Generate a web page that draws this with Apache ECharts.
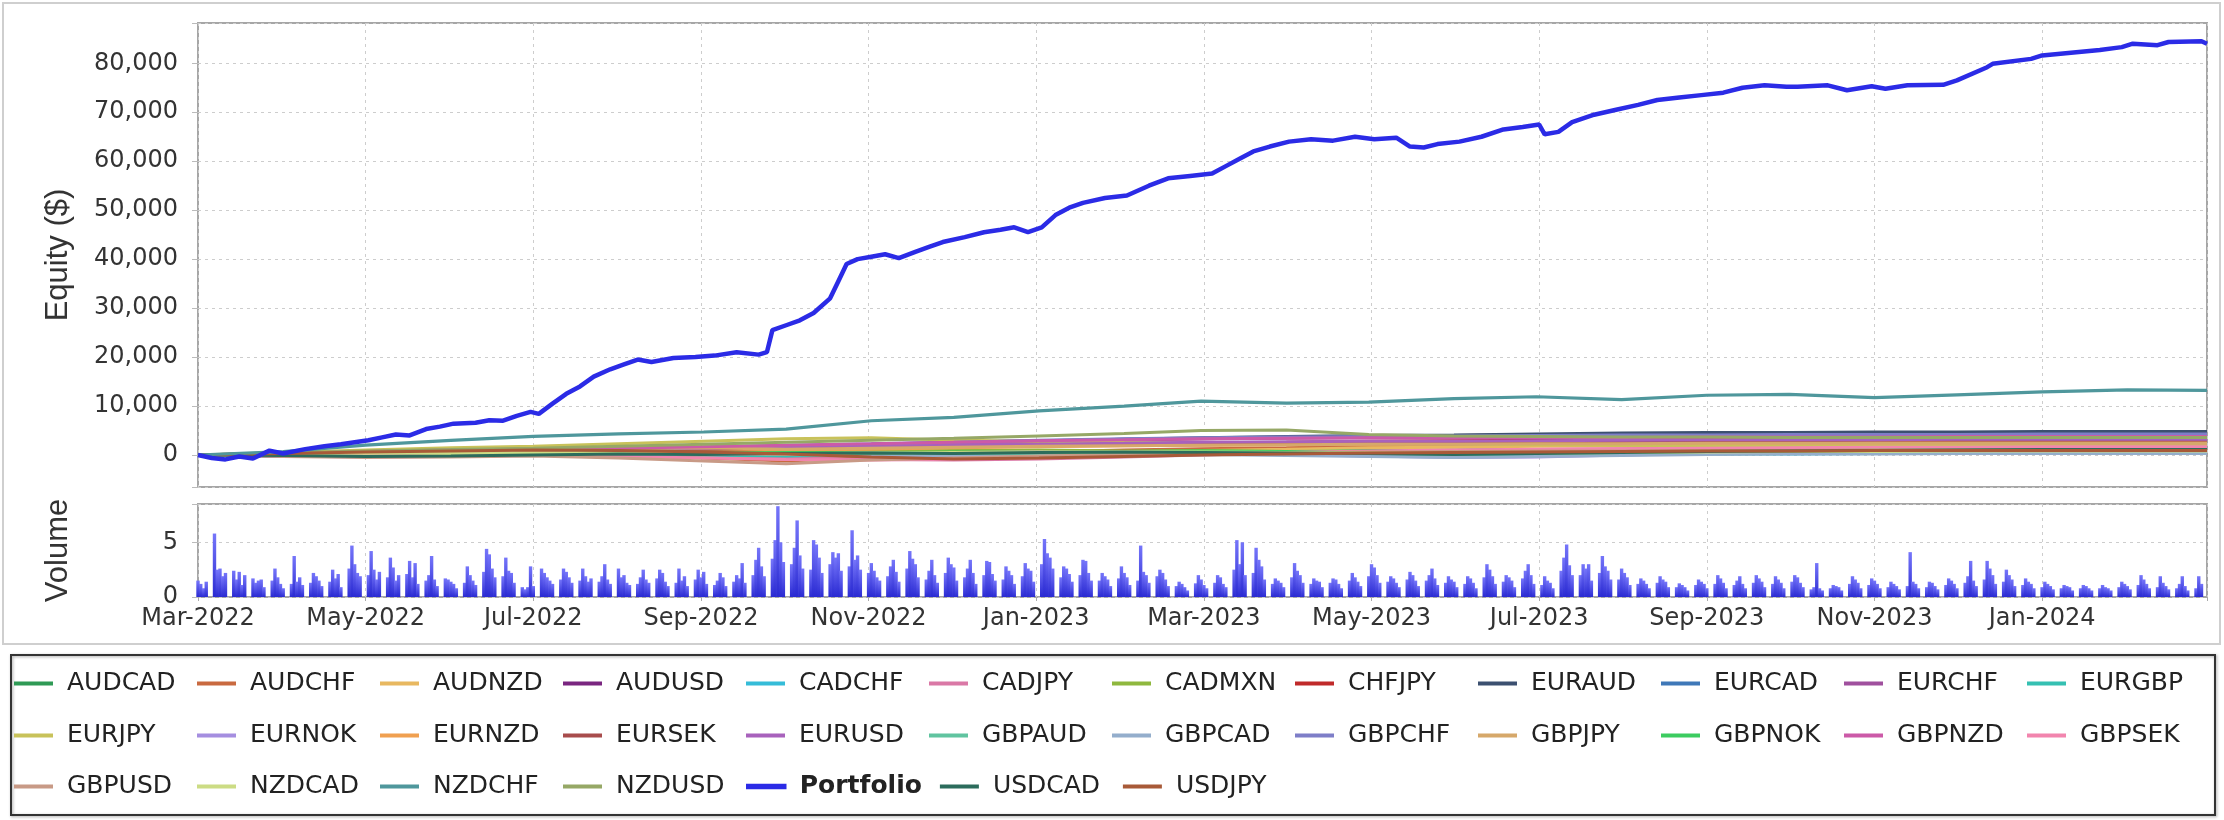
<!DOCTYPE html>
<html><head><meta charset="utf-8">
<script src="https://cdn.jsdelivr.net/npm/echarts@6/dist/echarts.min.js"></script>
<style>html,body{margin:0;padding:0;background:#fff}#chart{width:2224px;height:820px}</style>
</head><body><div id="chart"></div>
<script>
// ---------- DATA ----------
const monthDates = ['2022-03-01','2022-04-01','2022-05-01','2022-06-01','2022-07-01','2022-08-01','2022-09-01','2022-10-01','2022-11-01','2022-12-01','2023-01-01','2023-02-01','2023-03-01','2023-04-01','2023-05-01','2023-06-01','2023-07-01','2023-08-01','2023-09-01','2023-10-01','2023-11-01','2023-12-01','2024-01-01','2024-02-01','2024-03-01'];

const AUDCAD = [0,100,300,200,400,500,300,600,500,700,600,800,900,700,900,1000,1100,1000,1200,1300,1200,1300,1400,1400,1450];
const AUDCHF = [0,-200,100,300,500,400,-600,-1200,-500,200,600,1000,1300,1500,1800,2000,2100,2300,2400,2500,2600,2700,2700,2800,2800];
const AUDNZD = [0,200,-100,-300,100,300,0,-900,-800,-300,200,600,900,1200,1500,1600,1800,1900,2000,2100,2100,2200,2200,2300,2200];
const AUDUSD = [0,300,600,500,800,1200,1500,1800,2200,2600,2900,3200,3300,3600,3800,4000,4100,4200,4300,4200,4400,4500,4500,4600,4500];
const CADCHF = [0,-100,200,100,300,200,400,300,500,400,300,200,300,100,0,-200,100,200,300,200,300,400,300,300,300];
const CADJPY = [0,200,400,300,100,200,0,-500,-900,-1000,-800,-400,0,400,700,900,1100,1300,1500,1600,1700,1800,1900,2000,2000];
const CADMXN = [0,-200,-300,100,300,500,700,600,800,900,1000,800,900,700,600,800,900,1000,1100,1000,1100,1200,1200,1200,1200];
const CHFJPY = [0,400,800,1100,1400,1500,1600,1500,1700,1900,2100,2300,2500,2600,2800,2900,3000,3100,3200,3300,3300,3400,3400,3500,3400];
const EURAUD = [0,200,500,700,900,1200,1400,1600,1900,2300,2800,3200,3500,3800,4000,4100,4300,4500,4600,4600,4700,4700,4800,4800,4800];
const EURCAD = [0,-300,-200,0,200,100,300,200,400,300,500,400,300,200,100,0,200,300,400,500,500,600,600,600,600];
const EURCHF = [0,300,500,800,1000,1300,1500,1800,2100,2400,2700,3000,3300,3400,3500,3500,3600,3700,3800,3900,3900,4000,4000,4000,4000];
const EURGBP = [0,100,-100,200,300,100,0,-200,100,300,200,400,300,100,-100,-300,-100,100,200,300,300,400,400,400,400];
const EURJPY = [0,500,1000,1500,1800,2300,2800,3300,3500,3000,2800,2600,2500,2400,2300,2200,2100,2000,1900,1900,1900,1900,1900,1900,1900];
const EURNOK = [0,-200,-400,-300,-100,100,300,200,400,500,600,500,300,100,-200,-500,-400,0,300,500,600,700,700,700,700];
const EURNZD = [0,300,500,700,900,1100,1300,1000,1200,1500,1700,1900,2000,2100,2200,2300,2400,2400,2500,2500,2500,2600,2600,2600,2600];
const EURSEK = [0,200,400,600,800,1000,1200,1400,1600,1800,2000,2100,2200,2400,2500,2600,2700,2800,2900,2900,3000,3000,3000,3000,3000];
const EURUSD = [0,400,600,900,1000,1200,1400,1700,1900,2100,2200,2400,2600,2700,2800,2800,2900,3000,3100,3100,3100,3200,3200,3200,3200];
const GBPAUD = [0,300,500,400,600,500,400,300,200,100,200,300,400,300,200,100,200,300,400,500,500,500,500,500,500];
const GBPCAD = [0,-100,0,200,100,300,200,100,-100,-300,-200,0,100,-100,-300,-500,-300,-100,100,200,200,300,300,300,300];
const GBPCHF = [0,100,400,700,1000,1300,1600,2000,2300,2600,3000,3300,3500,3700,3800,3900,4000,4100,4100,4200,4200,4200,4300,4300,4300];
const GBPJPY = [0,200,500,800,1100,1300,1500,1200,1400,1600,1800,1900,2000,2100,2200,2200,2300,2300,2400,2400,2400,2400,2400,2400,2400];
const GBPNOK = [0,200,100,300,200,400,300,500,400,600,500,700,800,700,800,900,1000,1100,1100,1200,1200,1300,1300,1300,1300];
const GBPNZD = [0,300,700,1000,1200,1400,1700,2000,2300,2600,2900,3100,3300,3400,3500,3500,3600,3600,3700,3700,3700,3800,3800,3800,3800];
const GBPSEK = [0,100,300,200,0,-300,-600,-900,-1000,-800,-600,-200,200,500,800,1000,1200,1300,1400,1500,1600,1600,1700,1700,1700];
const GBPUSD = [0,-300,-500,-400,-200,-600,-1200,-1800,-1000,-600,-200,100,300,500,600,700,800,800,900,900,1000,1000,1000,1000,1000];
const NZDCAD = [0,200,400,300,500,400,300,200,400,500,600,700,600,500,400,300,400,500,600,700,700,800,800,800,800];
const NZDCHF = [0,700,2000,3000,3800,4300,4700,5300,7000,7700,9000,10000,11000,10600,10800,11500,11900,11300,12200,12400,11700,12300,12900,13300,13200];
const NZDUSD = [0,400,800,1100,1400,1800,2200,2600,3000,3400,3900,4400,5000,5100,4200,3900,3800,3700,3700,3600,3600,3600,3600,3600,3600];
const USDCAD = [0,-100,-300,-200,0,200,100,300,400,300,500,600,500,400,300,100,300,500,700,800,900,1000,1100,1100,1100];
const USDJPY = [0,300,600,800,1000,900,600,200,-400,-800,-600,-300,0,200,400,500,600,700,800,800,900,900,900,900,900];

const portfolioDates = ['2022-03-01','2022-03-06','2022-03-11','2022-03-16','2022-03-21','2022-03-27','2022-04-01','2022-04-09','2022-04-16','2022-04-22','2022-05-02','2022-05-07','2022-05-12','2022-05-17','2022-05-23','2022-05-28','2022-06-02','2022-06-10','2022-06-15','2022-06-20','2022-06-25','2022-06-30','2022-07-03','2022-07-08','2022-07-13','2022-07-18','2022-07-23','2022-07-29','2022-08-03','2022-08-08','2022-08-13','2022-08-21','2022-08-29','2022-09-05','2022-09-13','2022-09-21','2022-09-24','2022-09-26','2022-10-01','2022-10-06','2022-10-11','2022-10-17','2022-10-20','2022-10-23','2022-10-27','2022-11-01','2022-11-06','2022-11-11','2022-11-17','2022-11-22','2022-11-27','2022-12-05','2022-12-12','2022-12-18','2022-12-23','2022-12-28','2023-01-02','2023-01-07','2023-01-12','2023-01-17','2023-01-25','2023-02-02','2023-02-10','2023-02-17','2023-02-25','2023-03-05','2023-03-10','2023-03-15','2023-03-20','2023-03-26','2023-04-02','2023-04-10','2023-04-18','2023-04-26','2023-05-03','2023-05-11','2023-05-16','2023-05-21','2023-05-26','2023-06-03','2023-06-11','2023-06-19','2023-06-26','2023-07-02','2023-07-04','2023-07-09','2023-07-14','2023-07-22','2023-07-30','2023-08-07','2023-08-14','2023-08-22','2023-08-30','2023-09-07','2023-09-14','2023-09-22','2023-09-30','2023-10-04','2023-10-15','2023-10-22','2023-10-31','2023-11-05','2023-11-13','2023-11-26','2023-12-01','2023-12-12','2023-12-14','2023-12-28','2024-01-01','2024-01-22','2024-01-30','2024-02-03','2024-02-12','2024-02-16','2024-02-28','2024-03-01'];
const portfolioValues = [0,-600,-900,-300,-700,900,300,1200,1800,2200,3000,3600,4200,4000,5300,5800,6400,6600,7100,7000,8000,8800,8400,10500,12500,14000,16000,17500,18500,19500,19000,19800,20000,20300,21000,20500,21000,25500,26500,27500,29000,32000,35500,39000,40000,40500,41000,40200,41500,42500,43500,44500,45500,46000,46500,45500,46500,49000,50500,51500,52500,53000,55000,56500,57000,57500,59000,60500,62000,63000,64000,64500,64200,65000,64500,64800,63000,62800,63500,64000,65000,66500,67000,67500,65500,66000,68000,69500,70500,71500,72500,73000,73500,74000,75000,75500,75200,75200,75500,74500,75300,74800,75500,75600,76500,79200,79900,80900,81600,82700,83300,84000,83700,84350,84500,84000];

// Volume: one row per week (Mon..Fri), first week starts Mon 2022-02-28
const volumeFirstMonday = '2022-02-28';
const volumeWeeks = [
[0,1.5,1.2,0.8,1.4],[5.8,2.5,2.6,1.9,2.2],[2.4,1.6,2.3,1.1,2.0],[1.7,1.3,1.5,1.6,0.9],[1.5,2.6,1.8,1.2,0.8],
[1.2,3.75,1.4,1.8,1.1],[1.3,2.2,1.9,1.5,1.0],[1.4,2.5,1.7,2.1,0.9],[2.6,4.7,3.0,2.2,1.9],[2.0,4.2,2.5,1.6,2.3],
[1.8,3.6,2.7,1.5,2.0],[2.1,3.3,1.8,3.1,1.2],[1.5,2.0,3.75,1.6,1.0],[1.7,1.6,1.4,1.2,0.8],[1.3,2.8,2.0,1.5,1.1],
[2.3,4.4,3.9,2.6,1.8],[1.9,3.6,2.4,2.2,1.3],[0.9,0.7,0.9,2.8,1.0],[2.6,2.2,1.8,1.5,1.2],[1.6,2.6,2.3,1.8,1.3],
[1.5,2.6,1.9,1.4,1.7],[1.4,1.9,3.0,1.6,1.2],[2.6,1.8,2.0,1.3,1.1],[1.2,1.8,2.5,1.6,1.3],[1.7,2.5,2.2,1.4,1.0],
[1.3,2.6,1.5,1.9,1.0],[1.6,2.5,1.8,2.3,1.2],[1.1,1.5,2.2,1.8,1.0],[1.4,2.0,1.7,3.1,1.3],[2.0,3.4,4.5,2.8,1.9],
[3.5,5.2,8.3,5.0,3.2],[3.0,4.5,7.0,3.8,2.6],[2.5,5.2,4.8,3.6,2.2],[3.0,4.1,3.6,4.0,2.4],[2.8,6.1,3.4,3.8,2.5],
[2.2,3.1,2.4,1.8,1.5],[1.9,2.8,3.4,2.3,1.4],[2.6,4.2,3.5,3.0,1.8],[1.6,2.4,3.4,2.0,1.3],[2.2,3.6,3.0,2.7,1.5],
[1.8,2.6,3.4,2.2,1.2],[2.0,3.3,3.2,2.1,1.5],[1.6,2.8,2.4,2.0,1.2],[1.9,3.1,2.6,2.4,1.4],[3.0,5.3,4.0,3.6,2.6],
[1.8,2.8,2.6,2.1,1.4],[2.0,3.4,3.3,2.2,1.5],[1.5,2.2,1.9,1.6,1.0],[1.7,2.8,2.2,1.8,1.1],[1.5,4.7,2.3,2.0,1.3],
[1.9,2.5,2.2,1.6,1.0],[1.0,1.4,1.2,0.9,0.6],[1.25,2.0,1.6,1.1,0.8],[1.3,2.0,1.8,1.2,0.9],[2.5,5.2,3.0,5.0,2.0],
[2.2,4.5,3.4,2.8,1.6],[1.2,1.7,1.5,1.3,0.9],[1.8,3.1,2.4,2.0,1.3],[1.2,1.7,1.5,1.4,0.9],[1.3,1.7,1.6,1.2,0.8],
[1.5,2.2,1.8,1.4,1.0],[1.9,3.0,2.7,2.0,1.3],[1.4,1.9,1.7,1.3,0.9],[1.6,2.3,2.0,1.5,1.0],[1.5,2.0,2.6,1.7,1.1],
[1.3,1.9,1.6,1.4,0.9],[1.2,1.9,1.7,1.3,0.8],[1.8,3.0,2.5,1.9,1.2],[1.4,2.0,1.8,1.5,0.9],[1.7,2.4,3.0,2.0,1.2],
[1.1,1.9,1.5,1.3,0.8],[2.4,3.6,4.8,2.9,2.0],[2.0,3.0,2.6,3.0,1.5],[2.2,3.75,2.8,2.4,1.6],[1.6,2.6,2.2,1.8,1.1],
[1.2,1.7,1.5,1.2,0.8],[1.3,1.9,1.6,1.4,0.9],[0.9,1.25,1.1,0.9,0.6],[1.1,1.6,1.4,1.2,0.8],[1.2,2.0,1.7,1.3,0.8],
[1.1,1.5,1.9,1.2,0.8],[1.3,2.0,1.7,1.4,0.9],[1.2,1.9,1.6,1.3,0.8],[1.4,2.0,1.8,1.3,0.9],[0.7,0.9,3.1,0.8,0.6],
[0.8,1.1,1.0,0.9,0.6],[1.2,1.9,1.6,1.3,0.8],[1.1,1.7,1.5,1.2,0.8],[0.9,1.4,1.2,1.0,0.7],[1.0,4.1,1.4,1.2,0.8],
[0.9,1.4,1.3,1.0,0.7],[1.1,1.7,1.5,1.2,0.8],[1.3,1.9,3.3,1.5,1.0],[1.6,3.3,2.6,2.0,1.2],[1.4,2.5,2.0,1.6,1.0],
[1.1,1.7,1.4,1.2,0.8],[0.9,1.4,1.2,1.0,0.7],[0.8,1.1,1.0,0.9,0.6],[0.8,1.1,1.0,0.8,0.6],[0.8,1.1,0.9,0.8,0.6],
[0.9,1.4,1.2,1.0,0.7],[1.1,2.0,1.6,1.2,0.8],[0.9,1.9,1.3,1.0,0.7],[0.8,1.2,1.9,1.0,0.6],[0.8,1.9,1.2,0,0]
];

const seriesNames = ['AUDCAD','AUDCHF','AUDNZD','AUDUSD','CADCHF','CADJPY','CADMXN','CHFJPY','EURAUD','EURCAD','EURCHF','EURGBP','EURJPY','EURNOK','EURNZD','EURSEK','EURUSD','GBPAUD','GBPCAD','GBPCHF','GBPJPY','GBPNOK','GBPNZD','GBPSEK','GBPUSD','NZDCAD','NZDCHF','NZDUSD','Portfolio','USDCAD','USDJPY'];
const seriesColors = ['#2f9a55','#c96a40','#e8b860','#7a2680','#35bcd8','#da78a6','#8fb83e','#c02a2a','#3c5070','#3f78b8','#a0509e','#35c0b2','#c8c25a','#a58ee0','#f0a050','#a84c4c','#a862bc','#60c4a0','#94aecc','#7e7ec8','#d6a86a','#3ccc60','#cc5aa8','#f285ae','#c89a86','#ccdc84','#4f979c','#96a866','#2b2be6','#2c6c5c','#a85a38'];
const legendRows = [seriesNames.slice(0,12), seriesNames.slice(12,24), seriesNames.slice(24)];
const monthNames = ['Jan','Feb','Mar','Apr','May','Jun','Jul','Aug','Sep','Oct','Nov','Dec'];

// ---------- HELPERS ----------
const DAY_MS = 86400000;
const DAY0 = Date.UTC(2022, 2, 1);
function dayIndex(s){ const p = s.split('-').map(Number); return Math.round((Date.UTC(p[0], p[1]-1, p[2]) - DAY0)/DAY_MS); }
const X_MAX = dayIndex('2024-03-01');
const X_STEP = 61;
function xLabel(v){
  if (v % X_STEP !== 0) return '';
  const d = new Date(DAY0 + (v + 15) * DAY_MS);
  return monthNames[d.getUTCMonth()] + '-' + d.getUTCFullYear();
}
const minorData = {AUDCAD,AUDCHF,AUDNZD,AUDUSD,CADCHF,CADJPY,CADMXN,CHFJPY,EURAUD,EURCAD,EURCHF,EURGBP,EURJPY,EURNOK,EURNZD,EURSEK,EURUSD,GBPAUD,GBPCAD,GBPCHF,GBPJPY,GBPNOK,GBPNZD,GBPSEK,GBPUSD,NZDCAD,NZDCHF,NZDUSD,USDCAD,USDJPY};
const colorOf = n => seriesColors[seriesNames.indexOf(n)];

const series = [];
seriesNames.forEach((name, idx) => {
  if (name === 'Portfolio') return;
  const vals = minorData[name];
  series.push({
    name, type: 'line', xAxisIndex: 0, yAxisIndex: 0,
    data: monthDates.map((d, i) => [dayIndex(d), vals[i]]),
    symbol: 'none', showSymbol: false, animation: false, silent: true,
    lineStyle: { width: name === 'NZDCHF' ? 3.2 : 3, color: seriesColors[idx] },
    itemStyle: { color: seriesColors[idx] },
    z: name === 'NZDCHF' ? 4 : 3
  });
});
series.push({
  name: 'Portfolio', type: 'line', xAxisIndex: 0, yAxisIndex: 0,
  data: portfolioDates.map((d, i) => [dayIndex(d), portfolioValues[i]]),
  symbol: 'none', showSymbol: false, animation: false, silent: true,
  lineStyle: { width: 4.5, color: colorOf('Portfolio') },
  itemStyle: { color: colorOf('Portfolio') }, z: 6
});
const volStart = dayIndex(volumeFirstMonday);
const volumeData = [];
volumeWeeks.forEach((wk, w) => wk.forEach((v, d) => {
  const x = volStart + w * 7 + d;
  if (x >= 0 && x <= X_MAX && v > 0) volumeData.push([x, v]);
}));
series.push({
  name: 'Volume', type: 'bar', xAxisIndex: 1, yAxisIndex: 1, data: volumeData,
  barWidth: 3.4, animation: false, silent: true,
  itemStyle: { color: new echarts.graphic.LinearGradient(0, 0, 0, 1, [
    { offset: 0, color: '#7676fa' }, { offset: 1, color: '#2a2ad2' }]) }
});

const tickFont = { fontFamily: 'DejaVu Sans', fontSize: 24, color: '#333' };
const titleFont = { fontFamily: 'Liberation Sans', fontSize: 31, color: '#333' };
const gridLine = { show: true, lineStyle: { color: '#cdcdcd', type: [3, 4], width: 1 } };

const rowTops = [671, 723, 774];
const legends = legendRows.map((row, i) => ({
  show: true, orient: 'horizontal', left: 14, top: rowTops[i],
  itemWidth: 39, itemHeight: 4, itemGap: 18, selectedMode: false, padding: 0,
  data: row.map(n => ({ name: n, icon: 'rect',
    itemStyle: n === 'Portfolio' ? { color: colorOf(n), borderColor: colorOf(n), borderWidth: 1.5 } : { color: colorOf(n) } })),
  formatter: n => n === 'Portfolio' ? '{b|' + n + '}' : '{a|' + n + '}',
  textStyle: { fontFamily: 'DejaVu Sans', fontSize: 25, color: '#222',
    rich: {
      a: { fontFamily: 'DejaVu Sans', fontSize: 25, color: '#222', width: 112, lineHeight: 30, padding: [0, 0, 0, 9] },
      b: { fontFamily: 'DejaVu Sans', fontSize: 25, color: '#222', fontWeight: 'bold', width: 112, lineHeight: 30, padding: [0, 0, 0, 9] }
    } }
}));

const option = {
  backgroundColor: '#ffffff',
  animation: false,
  grid: [
    { left: 198, top: 23, width: 2009, height: 464, show: true, borderColor: '#a6a6a6', borderWidth: 2, backgroundColor: 'transparent', containLabel: false, outerBoundsMode: 'none' },
    { left: 198, top: 504, width: 2009, height: 93, show: true, borderColor: '#a6a6a6', borderWidth: 2, backgroundColor: 'transparent', containLabel: false, outerBoundsMode: 'none' }
  ],
  xAxis: [
    { type: 'value', gridIndex: 0, min: 0, max: X_MAX, interval: X_STEP,
      axisLine: { show: false }, axisTick: { show: false }, axisLabel: { show: false }, splitLine: gridLine },
    { type: 'value', gridIndex: 1, min: 0, max: X_MAX, interval: X_STEP,
      axisLine: { show: false }, axisTick: { show: true, length: 4, lineStyle: { color: '#aaa' } },
      axisLabel: Object.assign({ show: true, margin: 10, formatter: xLabel, showMinLabel: true, showMaxLabel: true, hideOverlap: false }, tickFont),
      splitLine: gridLine }
  ],
  yAxis: [
    { type: 'value', gridIndex: 0, min: -6535, max: 88230, splitNumber: 9, minInterval: 10000, maxInterval: 10000,
      name: 'Equity ($)', nameLocation: 'middle', nameGap: 124, nameRotate: 90, nameTextStyle: titleFont, nameMoveOverlap: false,
      axisLine: { show: false }, axisTick: { show: true, length: 6, lineStyle: { color: '#bbb' } },
      axisLabel: Object.assign({ margin: 20, formatter: v => (Math.abs(v % 10000) < 1e-6 ? v.toLocaleString('en-US') : ''), showMinLabel: true, showMaxLabel: true, hideOverlap: false }, tickFont),
      splitLine: gridLine },
    { type: 'value', gridIndex: 1, min: 0, max: 8.5, interval: 5,
      name: 'Volume', nameLocation: 'middle', nameGap: 124, nameRotate: 90, nameTextStyle: titleFont, nameMoveOverlap: false,
      axisLine: { show: false }, axisTick: { show: true, length: 6, lineStyle: { color: '#bbb' } },
      axisLabel: Object.assign({ margin: 20, formatter: v => (v % 5 === 0 ? String(v) : ''), showMinLabel: true, showMaxLabel: true, hideOverlap: false }, tickFont),
      splitLine: gridLine }
  ],
  legend: legends,
  graphic: [
    { type: 'rect', z: -10, silent: true, shape: { x: 3, y: 3, width: 2217, height: 641 }, style: { fill: 'none', stroke: '#cfcfcf', lineWidth: 2 } },
    { type: 'rect', z: -10, silent: true, shape: { x: 11, y: 655, width: 2204, height: 160 }, style: { fill: 'none', stroke: '#333', lineWidth: 2, shadowBlur: 3, shadowColor: 'rgba(0,0,0,0.35)', shadowOffsetX: 1, shadowOffsetY: 1 } }
  ],
  series
};
const chart = echarts.init(document.getElementById('chart'), null, { renderer: 'canvas', width: 2224, height: 820 });
chart.setOption(option);
</script></body></html>
